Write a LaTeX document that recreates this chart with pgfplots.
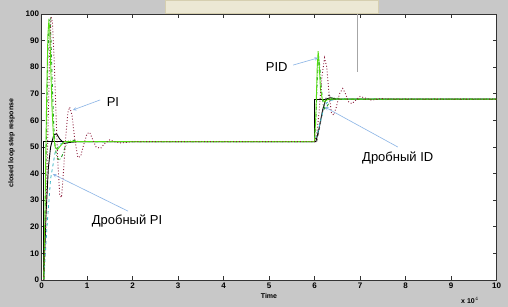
\documentclass[border=0pt]{standalone}
\usepackage{fontspec}
\setmainfont{Liberation Sans}
\usepackage{pgfplots}
\pgfplotsset{compat=1.18}
\definecolor{figgray}{HTML}{C8C8C8}
\definecolor{barbeige}{HTML}{ECE8D4}
\definecolor{barline}{HTML}{D6CFB0}
\definecolor{dkgreen}{HTML}{2A9D2A}
\definecolor{brgreen}{HTML}{55DD11}
\definecolor{maroon}{HTML}{8B1A3A}
\definecolor{cyanl}{HTML}{3CB8C8}
\definecolor{arrowblue}{HTML}{8AB4E6}
\begin{document}
\begin{tikzpicture}
\useasboundingbox (0pt,0pt) rectangle (508pt,307pt);
\fill[figgray] (0pt,0pt) rectangle (508pt,307pt);
\fill[barbeige] (165pt,294pt) rectangle (378pt,307pt);
\draw[barline] (165pt,294pt) rectangle (378pt,307pt);
\begin{axis}[
  at={(41.5pt,27pt)}, anchor=south west,
  width=455pt, height=266pt, scale only axis,
  xmin=0, xmax=10, ymin=0, ymax=100,
  xtick={0,1,...,10}, ytick={0,10,...,100},
  tick align=inside, tick pos=both,
  major tick length=4pt,
  axis background/.style={fill=white},
  axis line style={black!80, line width=0.8pt},
  every tick/.style={black!80, line width=0.6pt},
  tick label style={font=\fontsize{8}{9}\selectfont\bfseries},
  /pgf/number format/assume math mode=true,
  xticklabel style={yshift=1pt},
  yticklabel style={xshift=1pt},
  ylabel={closed loop step response},
  xlabel={Time},
  every axis y label/.style={at={(axis description cs:-0.066,0.515)}, rotate=90, anchor=center, font=\fontsize{7}{8}\selectfont\bfseries},
  every axis x label/.style={at={(axis description cs:0.5,-0.062)}, anchor=center, font=\fontsize{7}{8}\selectfont\bfseries},
  clip=true,
]
% set point
\addplot[black, line width=0.9pt] coordinates {(0,0) (0.05,0) (0.05,52) (6.0,52) (6.0,68) (10,68)};
% black response
\addplot[black, line width=0.9pt] coordinates {(0.05,0) (0.1,25) (0.15,42) (0.2,50) (0.27,54.5) (0.33,55) (0.4,53) (0.5,51.3) (0.6,51.7) (0.8,52) (6.03,52) (6.1,57) (6.18,64) (6.25,68) (6.35,68.5) (6.5,68) (10,68)};
% cyan dashed
\addplot[cyanl, dashed, line width=0.8pt] coordinates {(0.05,0) (0.12,20) (0.2,38) (0.3,48) (0.4,51) (0.55,52) (6.0,52) (6.08,56) (6.18,63) (6.26,66.5) (6.35,67.5) (6.5,68) (10,68)};
% dark dashed
\addplot[black!70, dashed, line width=0.7pt] coordinates {(6.05,52) (6.12,58) (6.2,65) (6.26,69) (6.32,69.5) (6.4,68) (10,68)};
% green dash-dot
\addplot[dkgreen, dash dot, line width=0.9pt] coordinates {(0.05,0) (0.08,25) (0.11,55) (0.14,85) (0.17,97) (0.19,98) (0.21,90) (0.24,72) (0.27,58) (0.3,50) (0.34,46) (0.4,45) (0.46,47) (0.52,50) (0.6,52.5) (0.7,52.5) (0.85,52) (6.0,52) (6.03,60) (6.06,75) (6.09,84) (6.12,80) (6.15,72) (6.19,66) (6.23,64) (6.3,66) (6.38,68.5) (6.5,68.3) (6.7,68) (10,68)};
% bright green
\addplot[brgreen, line width=0.9pt] coordinates {(0.05,0) (0.08,30) (0.11,65) (0.14,92) (0.16,97) (0.18,95) (0.2,82) (0.23,65) (0.26,55) (0.3,50) (0.35,49) (0.42,50.5) (0.5,52) (0.7,52) (6.0,52) (6.03,62) (6.06,80) (6.08,86) (6.1,82) (6.13,72) (6.17,68) (6.22,67) (6.3,68) (10,68)};
% maroon dotted
\addplot[maroon, dotted, line width=0.9pt] coordinates {(0.05,0) (0.1,25) (0.14,55) (0.18,85) (0.21,99) (0.24,97) (0.28,82) (0.32,62) (0.36,44) (0.4,32) (0.44,31) (0.48,40) (0.53,53) (0.58,63) (0.62,65) (0.67,62) (0.73,53) (0.8,46) (0.86,46.5) (0.93,51) (1.0,55) (1.06,55.5) (1.12,53) (1.2,50) (1.3,49.5) (1.4,51.5) (1.5,52.7) (1.6,52) (1.75,51.5) (2,52) (6.0,52) (6.05,55) (6.1,63) (6.16,76) (6.22,83.5) (6.27,80) (6.32,70) (6.37,63) (6.42,62) (6.48,65) (6.55,70) (6.62,72) (6.68,70) (6.75,67) (6.82,66.3) (6.9,67.5) (7.0,69) (7.1,68.5) (7.25,67.6) (7.45,68.2) (7.7,68) (10,68)};
% annotations
\draw[arrowblue, line width=0.6pt, -stealth] (axis cs:1.29,67.7) -- (axis cs:0.69,63.9);
\node[font=\fontsize{13}{14}\selectfont] at (axis cs:1.57,66.9) {PI};
\draw[arrowblue, line width=0.6pt, -stealth] (axis cs:1.90,25.9) -- (axis cs:0.25,39.8);
\node[font=\fontsize{13}{14}\selectfont] at (axis cs:1.88,22.2) {Дробный PI};
\draw[arrowblue, line width=0.6pt, -stealth] (axis cs:5.53,80.8) -- (axis cs:6.08,83.5);
\node[font=\fontsize{13}{14}\selectfont] at (axis cs:5.17,80.1) {PID};
\draw[arrowblue, line width=0.6pt, -stealth] (axis cs:7.83,50) -- (axis cs:6.23,65);
\node[font=\fontsize{13}{14}\selectfont] at (axis cs:7.83,45.9) {Дробный ID};
\end{axis}
\node[font=\fontsize{7}{8}\selectfont\bfseries] at (470pt,7pt) {x 10$^{4}$};
\draw[black!35, line width=0.5pt] (357pt,293pt) -- (357pt,235pt);
\end{tikzpicture}
\end{document}
